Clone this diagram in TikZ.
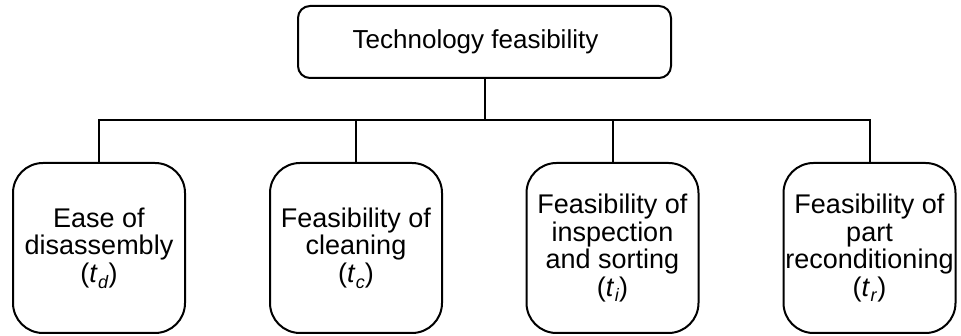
\documentclass[tikz,border=0pt]{standalone}
\usepackage{fontspec}
\setmainfont{Liberation Sans}
\usetikzlibrary{positioning}

\newcommand{\tsym}[1]{(\textit{t}\kern0.5pt\raisebox{-0.4ex}{\fontsize{18}{18}\selectfont\textit{#1}})}

\tikzstyle{goal} = [draw,rounded corners=12pt,line width=2pt,minimum width=373pt,minimum height=72pt,font=\fontsize{26}{28}\selectfont]
\tikzstyle{criterion} = [draw,rounded corners=30pt,line width=2pt,minimum width=172pt,minimum height=170pt,align=center,inner xsep=1pt,font=\fontsize{27}{27.5}\selectfont]

\begin{document}
\begin{tikzpicture}[x=1pt,y=1pt]
	\useasboundingbox (0,0) rectangle (961,-336);
	\node[goal] (tf) at (484.5,-42) {Technology feasibility\hspace*{18pt}};
	
	\node[criterion] (td) at (99,-248) {Ease of\\disassembly\\\tsym{d}};
	\node[criterion] (tc) at (356,-248) {Feasibility of\\cleaning\\\tsym{c}};
	\node[criterion] (ti) at (612.5,-248) {Feasibility of\\inspection\\and sorting\\\tsym{i}};
	\node[criterion] (tr) at (869.5,-248) {Feasibility of\\part\\reconditioning\\\tsym{r}};
	
	\coordinate (bus) at (484.5,-120);
	\draw[line width=2pt] (tf) -- (bus);
	\draw[line width=2pt] (bus) -| (td);
	\draw[line width=2pt] (bus) -| (tc);
	\draw[line width=2pt] (bus) -| (ti);
	\draw[line width=2pt] (bus) -| (tr);
\end{tikzpicture}
\end{document}
